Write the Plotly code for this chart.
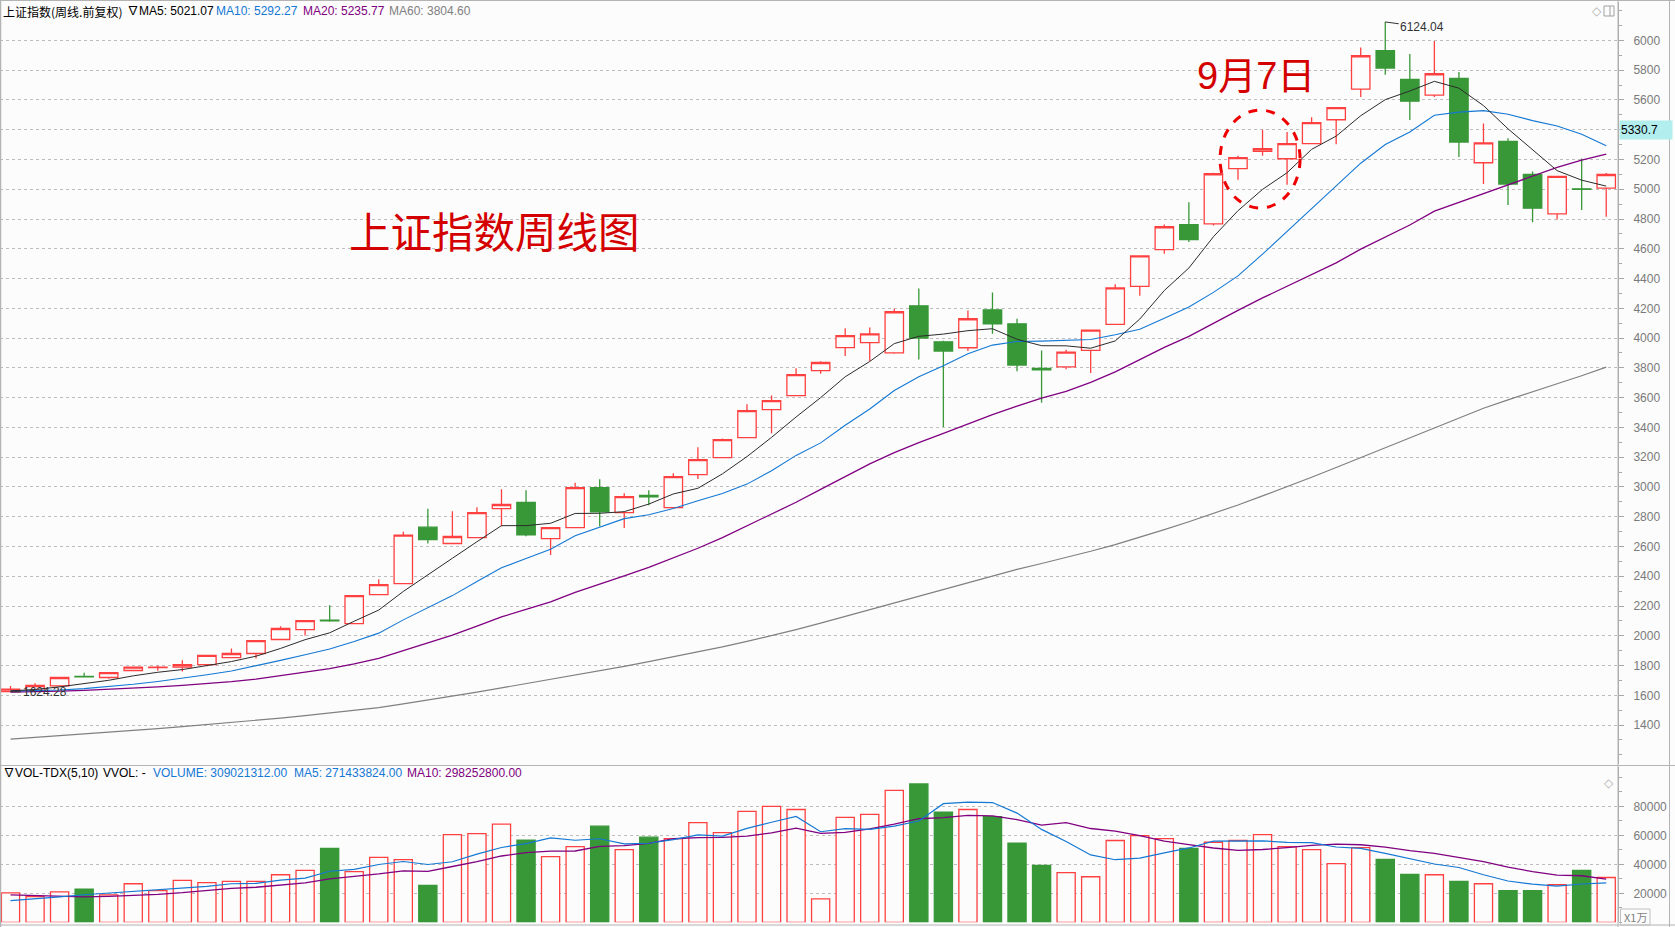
import plotly.graph_objects as go

# ---------------- data ----------------
idx = list(range(66))
opens = [1625, 1633, 1664, 1727, 1720, 1767, 1786, 1789, 1807, 1854, 1881, 1975, 2042, 2105, 2082, 2277, 2351,
         2730, 2620, 2660, 2855, 2897, 2653, 2727, 2996, 2828, 2944, 2861, 3083, 3197, 3332, 3520, 3614, 3782,
         3936, 3969, 3901, 4217, 3975, 3935, 4190, 4096, 3796, 3807, 3917, 4092, 4347, 4594, 4762, 4768, 5138,
         5254, 5205, 5306, 5467, 5673, 5931, 5738, 5633, 5745, 5178, 5321, 5100, 4835, 5003, 5008]
highs = [1662, 1682, 1724, 1751, 1755, 1790, 1800, 1836, 1870, 1915, 1970, 2064, 2103, 2205, 2272, 2380, 2699,
         2854, 2837, 2864, 2985, 2978, 2730, 3029, 3052, 2958, 2978, 3092, 3267, 3325, 3556, 3614, 3798, 3845,
         4066, 4072, 4197, 4334, 3982, 4186, 4307, 4130, 3917, 3922, 4056, 4361, 4555, 4764, 4912, 5111, 5225,
         5400, 5384, 5483, 5550, 5953, 6124.04, 5908, 5996, 5787, 5442, 5342, 5120, 5088, 5207, 5109]
lows = [1624.28, 1625, 1657, 1725, 1711, 1766, 1765, 1760, 1796, 1854, 1847, 1975, 2002, 2094, 2080, 2277, 2351,
        2620, 2620, 2660, 2736, 2669, 2543, 2727, 2736, 2725, 2877, 2861, 3054, 3197, 3332, 3361, 3614, 3760,
        3880, 3846, 3895, 3857, 3402, 3913, 4029, 3778, 3566, 3790, 3765, 4092, 4285, 4567, 4645, 4757, 5064,
        5225, 5030, 5306, 5303, 5619, 5769, 5465, 5619, 5216, 5035, 4894, 4779, 4797, 4860, 4816]
closes = [1642, 1666, 1720, 1725, 1753, 1789, 1789, 1807, 1868, 1881, 1968, 2049, 2102, 2100, 2270, 2344, 2676,
          2647, 2667, 2828, 2882, 2678, 2727, 2996, 2832, 2935, 2933, 3070, 3184, 3318, 3513, 3580, 3755, 3836,
          4017, 4029, 4177, 4000, 3913, 4130, 4096, 3819, 3787, 3906, 4054, 4338, 4553, 4748, 4661, 5104, 5212,
          5272, 5306, 5447, 5548, 5897, 5814, 5592, 5776, 5317, 5312, 5035, 4873, 5086, 4999, 5099]

ma5 = [1630, 1639, 1657, 1680, 1701, 1731, 1755, 1773, 1801, 1827, 1863, 1915, 1974, 2020, 2098, 2173, 2298,
       2407, 2521, 2632, 2740, 2740, 2756, 2822, 2823, 2834, 2885, 2953, 2991, 3088, 3204, 3333, 3470, 3600,
       3740, 3843, 3963, 4012, 4027, 4050, 4063, 3992, 3949, 3948, 3932, 3981, 4128, 4320, 4471, 4681, 4856,
       4999, 5111, 5268, 5357, 5494, 5602, 5660, 5725, 5679, 5562, 5406, 5263, 5125, 5061, 5021]
ma10 = [1628, 1630, 1636, 1645, 1658, 1674, 1693, 1714, 1738, 1764, 1797, 1835, 1873, 1911, 1962, 2018, 2107,
        2191, 2270, 2365, 2457, 2519, 2582, 2672, 2728, 2787, 2813, 2855, 2907, 2956, 3019, 3109, 3212, 3296,
        3414, 3524, 3648, 3741, 3814, 3895, 3953, 3977, 3980, 3987, 3991, 4022, 4060, 4134, 4209, 4307, 4418,
        4564, 4715, 4870, 5019, 5175, 5301, 5385, 5497, 5518, 5528, 5504, 5461, 5425, 5370, 5292]
ma20 = [1621, 1623, 1628, 1634, 1640, 1649, 1657, 1667, 1679, 1692, 1709, 1731, 1755, 1779, 1811, 1848, 1900,
        1952, 2004, 2065, 2127, 2177, 2228, 2291, 2345, 2402, 2460, 2523, 2588, 2660, 2738, 2814, 2897, 2984,
        3071, 3155, 3230, 3298, 3360, 3425, 3486, 3543, 3596, 3642, 3703, 3773, 3854, 3938, 4012, 4101, 4186,
        4270, 4348, 4428, 4505, 4598, 4680, 4760, 4853, 4912, 4973, 5034, 5088, 5147, 5195, 5236]
ma60 = [1306, 1317, 1329, 1341, 1353, 1365, 1377, 1390, 1403, 1417, 1431, 1447, 1464, 1481, 1499, 1518, 1543,
        1568, 1594, 1621, 1650, 1678, 1706, 1735, 1764, 1794, 1826, 1858, 1891, 1925, 1962, 2001, 2042, 2085,
        2130, 2177, 2224, 2270, 2315, 2360, 2405, 2446, 2486, 2526, 2568, 2613, 2662, 2713, 2766, 2821, 2879,
        2940, 3001, 3065, 3131, 3198, 3265, 3332, 3400, 3467, 3529, 3585, 3637, 3693, 3747, 3805]

volume = [20300, 17800, 21000, 22900, 18900, 26600, 21900, 28900, 27300, 28200, 28200, 32800, 35800, 51000,
          34900, 44800, 43200, 25400, 60500, 61200, 67700, 56600, 45300, 52200, 66300, 50100, 58700, 57750,
          68800, 61900, 76500, 79900, 77800, 16200, 72300, 74400, 91000, 95400, 76000, 77800, 72800, 54500,
          39300, 34200, 31400, 56400, 59800, 57750, 51000, 55200, 56400, 60500, 52200, 50100, 40400, 51500,
          43400, 33000, 32800, 28200, 26600, 21900, 21900, 25900, 35800, 30902]
vma5 = [15000, 16000, 17500, 19000, 20180, 21440, 22260, 23840, 24720, 26580, 26900, 29080, 30460, 35200, 36540,
        39860, 41940, 39860, 41760, 47020, 51600, 54280, 58260, 56600, 57620, 54100, 54520, 57010, 60330, 59450,
        64730, 68970, 72980, 62460, 64540, 64120, 66340, 69860, 81820, 82920, 82600, 75300, 64080, 55720, 46440,
        43160, 44220, 47910, 51270, 56030, 56030, 56170, 55060, 54880, 51920, 50940, 47520, 43680, 40220, 37780,
        32800, 28500, 26280, 24900, 26420, 27143]
vma10 = [18900, 18300, 17700, 17500, 17900, 18400, 19300, 20400, 21800, 23380, 24170, 25670, 27150, 29960, 31560,
         33380, 35510, 35160, 38480, 41780, 45730, 48110, 49060, 49180, 52320, 52850, 54400, 57635, 58465, 58535,
         59415, 61745, 64995, 61395, 61995, 64425, 67655, 71420, 72140, 73730, 73360, 70820, 66970, 68770, 64680,
         62880, 59760, 55995, 53495, 51235, 49595, 50195, 51485, 53075, 53975, 53485, 51845, 49370, 47550, 44850,
         41870, 38010, 34980, 32560, 32100, 29825]

price_ticks = list(range(1400, 6001, 200))
# the 5400 label is hidden under the current-price box in the reference
price_tick_text = ["" if v == 5400 else str(v) for v in price_ticks]
vol_ticks = [20000, 40000, 60000, 80000]
vol_tick_text = ["20000", "40000", "60000", "80000"]

# ---------------- styling ----------------
W, H = 1675, 927
PLOT_R = 1618
RED = "#ff4040"
GREEN = "#389838"
BG = "#fcfcfc"
GRID = "#bdbdbd"
AXIS = "#a8a8a8"
BLUE = "#1478d4"
PURPLE = "#800080"
GRAY = "#808080"
FONT = "Liberation Sans, Arial, Noto Sans CJK SC, sans-serif"
CJK = "Noto Sans CJK SC, sans-serif"
BIG = "Liberation Sans, Noto Sans CJK SC, sans-serif"


def px(xpix):
    return xpix / PLOT_R


def py(ypix):
    return 1 - ypix / H


fig = go.Figure()

fig.add_trace(go.Candlestick(
    x=idx, open=opens, high=highs, low=lows, close=closes,
    increasing=dict(line=dict(color=RED, width=1.3), fillcolor=BG),
    decreasing=dict(line=dict(color=GREEN, width=1.3), fillcolor=GREEN),
    whiskerwidth=0, hoverinfo="skip", xaxis="x", yaxis="y", showlegend=False))

for series, color, wd in [(ma60, GRAY, 1.2), (ma20, PURPLE, 1.3), (ma10, BLUE, 1.1), (ma5, "#2b2b2b", 1.0)]:
    fig.add_trace(go.Scatter(x=idx, y=series, mode="lines", line=dict(color=color, width=wd),
                             hoverinfo="skip", xaxis="x", yaxis="y", showlegend=False))

up = [c >= o for o, c in zip(opens, closes)]
fig.add_trace(go.Bar(
    x=idx, y=volume, width=0.74,
    marker=dict(color=[BG if u else GREEN for u in up],
                line=dict(color=[RED if u else GREEN for u in up], width=1.3)),
    hoverinfo="skip", xaxis="x2", yaxis="y2", showlegend=False))
fig.add_trace(go.Scatter(x=idx, y=vma10, mode="lines", line=dict(color=PURPLE, width=1.3),
                         hoverinfo="skip", xaxis="x2", yaxis="y2", showlegend=False))
fig.add_trace(go.Scatter(x=idx, y=vma5, mode="lines", line=dict(color=BLUE, width=1.2),
                         hoverinfo="skip", xaxis="x2", yaxis="y2", showlegend=False))

xr = [-0.428, 65.48]
price_dom = [py(764), py(2)]
vol_dom = [py(922.3), py(767)]
price_range = [6000 - (764 - 40.4) * 6.7182, 6000 + 40.4 * 6.7182 - 2 * 6.7182]
vol_range = [0, (922.3 - 767) / 29.0 * 20000]

axis_common = dict(side="right", showline=True, linecolor=AXIS, linewidth=1, ticks="outside",
                   ticklen=5, tickcolor=AXIS, tickfont=dict(family=FONT, size=12, color="#7a7a7a"),
                   ticklabelstandoff=7, showgrid=True, gridcolor=GRID, griddash="dot", gridwidth=1,
                   zeroline=False, fixedrange=True)

fig.update_layout(
    width=W, height=H,
    margin=dict(l=0, r=W - PLOT_R, t=0, b=0),
    paper_bgcolor=BG, plot_bgcolor=BG,
    boxgap=0.25, boxgroupgap=0, bargap=0,
    hovermode=False, dragmode=False, showlegend=False,
    xaxis=dict(domain=[0, 1], range=xr, anchor="y", visible=False, rangeslider=dict(visible=False),
               fixedrange=True),
    xaxis2=dict(domain=[0, 1], range=xr, anchor="y2", matches="x", showticklabels=False, showgrid=False,
                zeroline=False, showline=False, ticks="", fixedrange=True),
    yaxis=dict(domain=price_dom, range=price_range, anchor="x", tickmode="array", tickvals=price_ticks,
               ticktext=price_tick_text,
               minor=dict(dtick=100, ticks="outside", ticklen=3, tickcolor=AXIS, showgrid=False),
               **axis_common),
    yaxis2=dict(domain=vol_dom, range=vol_range, anchor="x2", tickmode="array", tickvals=vol_ticks,
                ticktext=vol_tick_text,
                minor=dict(dtick=10000, ticks="outside", ticklen=3, tickcolor=AXIS, showgrid=False),
                **axis_common),
)

shapes = []
line_col = "#b4b4b4"
# frame lines
shapes.append(dict(type="line", xref="paper", yref="paper", x0=0, x1=px(W), y0=py(0.5), y1=py(0.5),
                   line=dict(color=line_col, width=1)))
shapes.append(dict(type="line", xref="paper", yref="paper", x0=0, x1=px(W), y0=py(765.5), y1=py(765.5),
                   line=dict(color=line_col, width=1)))
shapes.append(dict(type="line", xref="paper", yref="paper", x0=0, x1=px(W), y0=py(925), y1=py(925),
                   line=dict(color=line_col, width=1)))
shapes.append(dict(type="line", xref="paper", yref="paper", x0=px(0.5), x1=px(0.5), y0=0, y1=1,
                   line=dict(color=line_col, width=1.5)))
shapes.append(dict(type="line", xref="paper", yref="paper", x0=1, x1=1, y0=0, y1=1,
                   line=dict(color=line_col, width=1)))
shapes.append(dict(type="line", xref="paper", yref="paper", x0=px(1669.5), x1=px(1669.5), y0=0, y1=1,
                   line=dict(color=line_col, width=1)))
# small icon at top right
shapes.append(dict(type="rect", xref="paper", yref="paper", x0=px(1604), x1=px(1614), y0=py(16), y1=py(6),
                   line=dict(color="#a0a0a0", width=1)))
shapes.append(dict(type="line", xref="paper", yref="paper", x0=px(1610), x1=px(1610), y0=py(16), y1=py(6),
                   line=dict(color="#a0a0a0", width=1)))
# X1万 box
shapes.append(dict(type="rect", xref="paper", yref="paper", x0=px(1620.5), x1=px(1650), y0=py(925), y1=py(909),
                   line=dict(color="#c0c0c0", width=1)))
# dashed circle around 9月7日 candles
shapes.append(dict(type="circle", xref="x", yref="y", x0=49.27, x1=52.53, y0=4874, y1=5532,
                   line=dict(color="#ee0000", width=3, dash="dash")))
fig.update_layout(shapes=shapes)

ann = []


def text(x, y, s, color="#000000", size=12, family=FONT, xanchor="left", xref="paper", yref="paper", **kw):
    ann.append(dict(x=x, y=y, xref=xref, yref=yref, text=s, showarrow=False, xanchor=xanchor,
                    yanchor="middle", font=dict(family=family, size=size, color=color), **kw))


# top header
hy = py(11)
text(px(1), hy, "上证指数(周线.前复权)", family=CJK, size=12)
text(px(125), hy, "∇MA5: 5021.07")
text(px(214), hy, "MA10: 5292.27", color=BLUE)
text(px(301), hy, "MA20: 5235.77", color=PURPLE)
text(px(387), hy, "MA60: 3804.60", color=GRAY)
# volume header
vy = py(773)
text(px(1), vy, "∇VOL-TDX(5,10)")
text(px(101), vy, "VVOL: -")
text(px(151), vy, "VOLUME: 309021312.00", color=BLUE)
text(px(292), vy, "MA5: 271433824.00", color=BLUE)
text(px(405), vy, "MA10: 298252800.00", color=PURPLE)
# icons
text(px(1597), py(11), "◇", color="#b0b0b0", size=12, xanchor="center", family="DejaVu Sans")
text(px(1609), py(783), "◇", color="#b0b0b0", size=12, xanchor="center", family="DejaVu Sans")
# X1万
text(px(1622), py(917), "X1万", color="#808080", size=11, family=CJK)
# overlay titles
text(19.73, 4726, "上证指数周线图", color="#d40000", size=41.5, family=CJK, xanchor="center", xref="x", yref="y")
text(50.75, 5760, "9月7日", color="#d40000", size=38, family=BIG, xanchor="center", xref="x", yref="y")
# current price label (sits over the 5400 tick position like the reference)
ann.append(dict(x=px(1619), y=5330.7, xref="paper", yref="y", text="5330.7", showarrow=False,
                xanchor="left", yanchor="bottom", align="left", width=50, height=16,
                bgcolor="#b2eeee", font=dict(family=FONT, size=12, color="#000000")))
# high / low markers
ann.append(dict(x=56, y=6124.04, xref="x", yref="y", text="6124.04", showarrow=True, arrowhead=0,
                arrowwidth=1, arrowcolor="#333333", ax=37, ay=5,
                font=dict(family=FONT, size=12, color="#333333")))
ann.append(dict(x=0, y=1624.28, xref="x", yref="y", text="1624.28", showarrow=True, arrowhead=0,
                arrowwidth=1, arrowcolor="#333333", ax=34, ay=0,
                font=dict(family=FONT, size=12, color="#333333")))
fig.update_layout(annotations=ann)

fig.write_html("out.html", config={"displayModeBar": False, "staticPlot": True},
               post_script="document.body.style.margin='0';document.body.style.padding='0';"
                           "document.body.style.overflow='hidden';")
